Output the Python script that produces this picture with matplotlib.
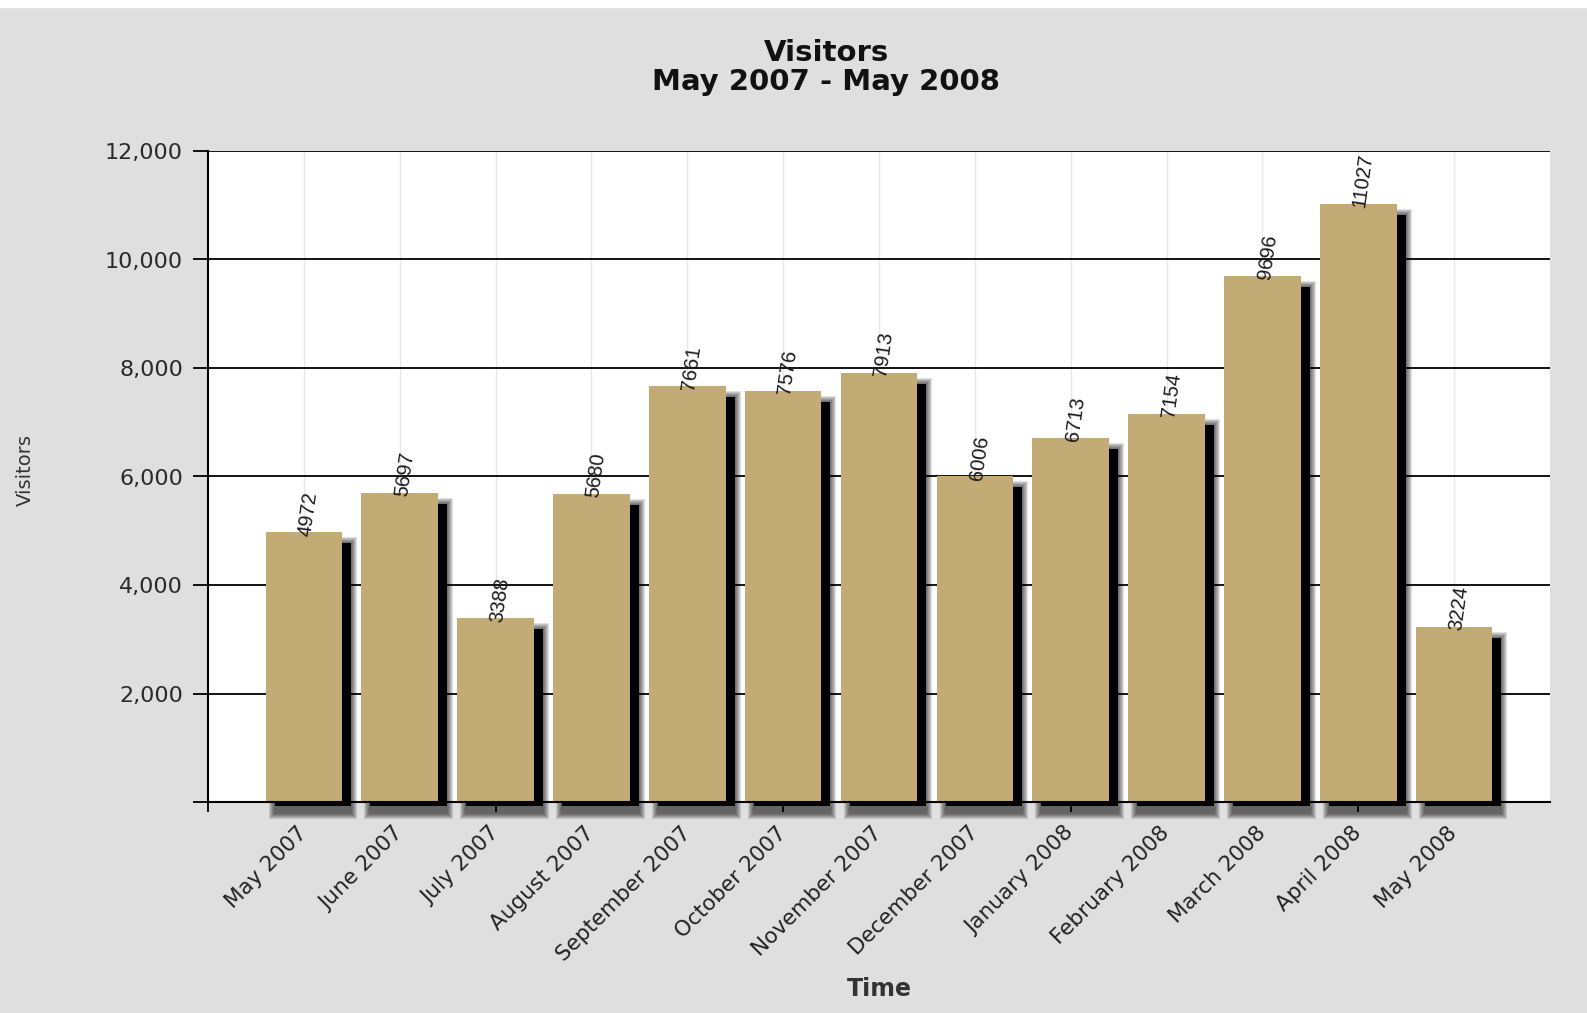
import numpy as np
import matplotlib.pyplot as plt
from matplotlib.ticker import FuncFormatter

# data
months = ['May 2007', 'June 2007', 'July 2007', 'August 2007', 'September 2007',
          'October 2007', 'November 2007', 'December 2007', 'January 2008',
          'February 2008', 'March 2008', 'April 2008', 'May 2008']
visitors = [4972, 5697, 3388, 5680, 7661, 7576, 7913, 6006, 6713, 7154, 9696, 11027, 3224]
y_ticks = [0, 2000, 4000, 6000, 8000, 10000, 12000]
quarter_ticks = [-1, 2, 5, 8, 11]

bar_color = '#c3ab76'
bg = '#dfdfdf'

fig = plt.figure(figsize=(15.87, 10.13), dpi=100, facecolor=bg)
# white strip at the very top
fig.patches.append(plt.Rectangle((0, 1 - 7 / 1013), 1, 7 / 1013, transform=fig.transFigure,
                                 color='white', zorder=0))

ax = fig.add_axes([208 / 1587, 1 - 802 / 1013, (1550 - 208) / 1587, (802 - 151) / 1013])
ax.set_facecolor('white')

x = np.arange(len(months))
vals = np.array(visitors, dtype=float)
width = 0.8

# soft drop shadow, offset right and down (sizes in pixels converted to data units)
px_x = 14 / 1342
px_y = 12000 / 651
dx, dy = 9 * px_x, 11 * px_y
for k in range(6, 0, -1):
    ax.bar(x + dx, vals + 2 * k * px_y, width + 2 * k * px_x, bottom=-dy - k * px_y,
           color='black', alpha=0.12, linewidth=0, zorder=0.3, clip_on=False)
ax.bar(x + dx, vals - dy + 4 * px_y, width, bottom=-4 * px_y, color='black', linewidth=0,
       zorder=0.35, clip_on=False)

ax.bar(x, vals, width, color=bar_color, linewidth=0, zorder=3)

for xi, v in zip(x, visitors):
    ax.text(xi + 0.05, v - 90, str(v), rotation=82, ha='center', va='bottom',
            fontsize=14.5, color='#1a1a1a', zorder=4, family=['Liberation Sans', 'DejaVu Sans'])

ax.set_xlim(-1, 13)
ax.set_ylim(0, 12000)

# y axis
ax.set_yticks(y_ticks)
ax.yaxis.set_major_formatter(FuncFormatter(lambda v, p: '' if v == 0 else f'{int(v):,}'))
ax.tick_params(axis='y', length=11, width=1.3, pad=7, labelsize=16, labelcolor='#2a2a2a')
ax.yaxis.grid(True, color='black', linewidth=1.3)

# x axis: quarter ticks without labels, month labels at bar centres
ax.xaxis.remove_overlapping_locs = False
ax.set_xticks(quarter_ticks)
ax.set_xticklabels([''] * len(quarter_ticks))
ax.tick_params(axis='x', which='major', length=7, width=1.3)
ax.set_xticks(x, minor=True)
ax.set_xticklabels(months, minor=True, rotation=45, ha='right', va='center',
                   rotation_mode='anchor', fontsize=15.5, color='#222222')
ax.tick_params(axis='x', which='minor', length=0, pad=20)
ax.xaxis.grid(True, which='minor', color='#e8e8e8', linewidth=1)
ax.set_axisbelow(True)

for s in ['top', 'right']:
    ax.spines[s].set_visible(False)
ax.spines['left'].set_linewidth(1.5)
ax.spines['bottom'].set_linewidth(1.5)
ax.spines['left'].set_zorder(5)
ax.spines['bottom'].set_zorder(5)

fig.text(826 / 1587, 1 - 53 / 1013, 'Visitors', ha='center', va='center',
         fontsize=21, fontweight='bold', color='#111111')
fig.text(826 / 1587, 1 - 82 / 1013, 'May 2007 - May 2008', ha='center', va='center',
         fontsize=21, fontweight='bold', color='#111111')
fig.text(25 / 1587, 1 - 470 / 1013, 'Visitors', rotation=90, ha='center', va='center',
         fontsize=14, color='#333333')
fig.text(879 / 1587, 1 - 989 / 1013, 'Time', ha='center', va='center',
         fontsize=17, fontweight='bold', color='#333333')

fig.savefig('out.png', dpi=100, facecolor=bg)
